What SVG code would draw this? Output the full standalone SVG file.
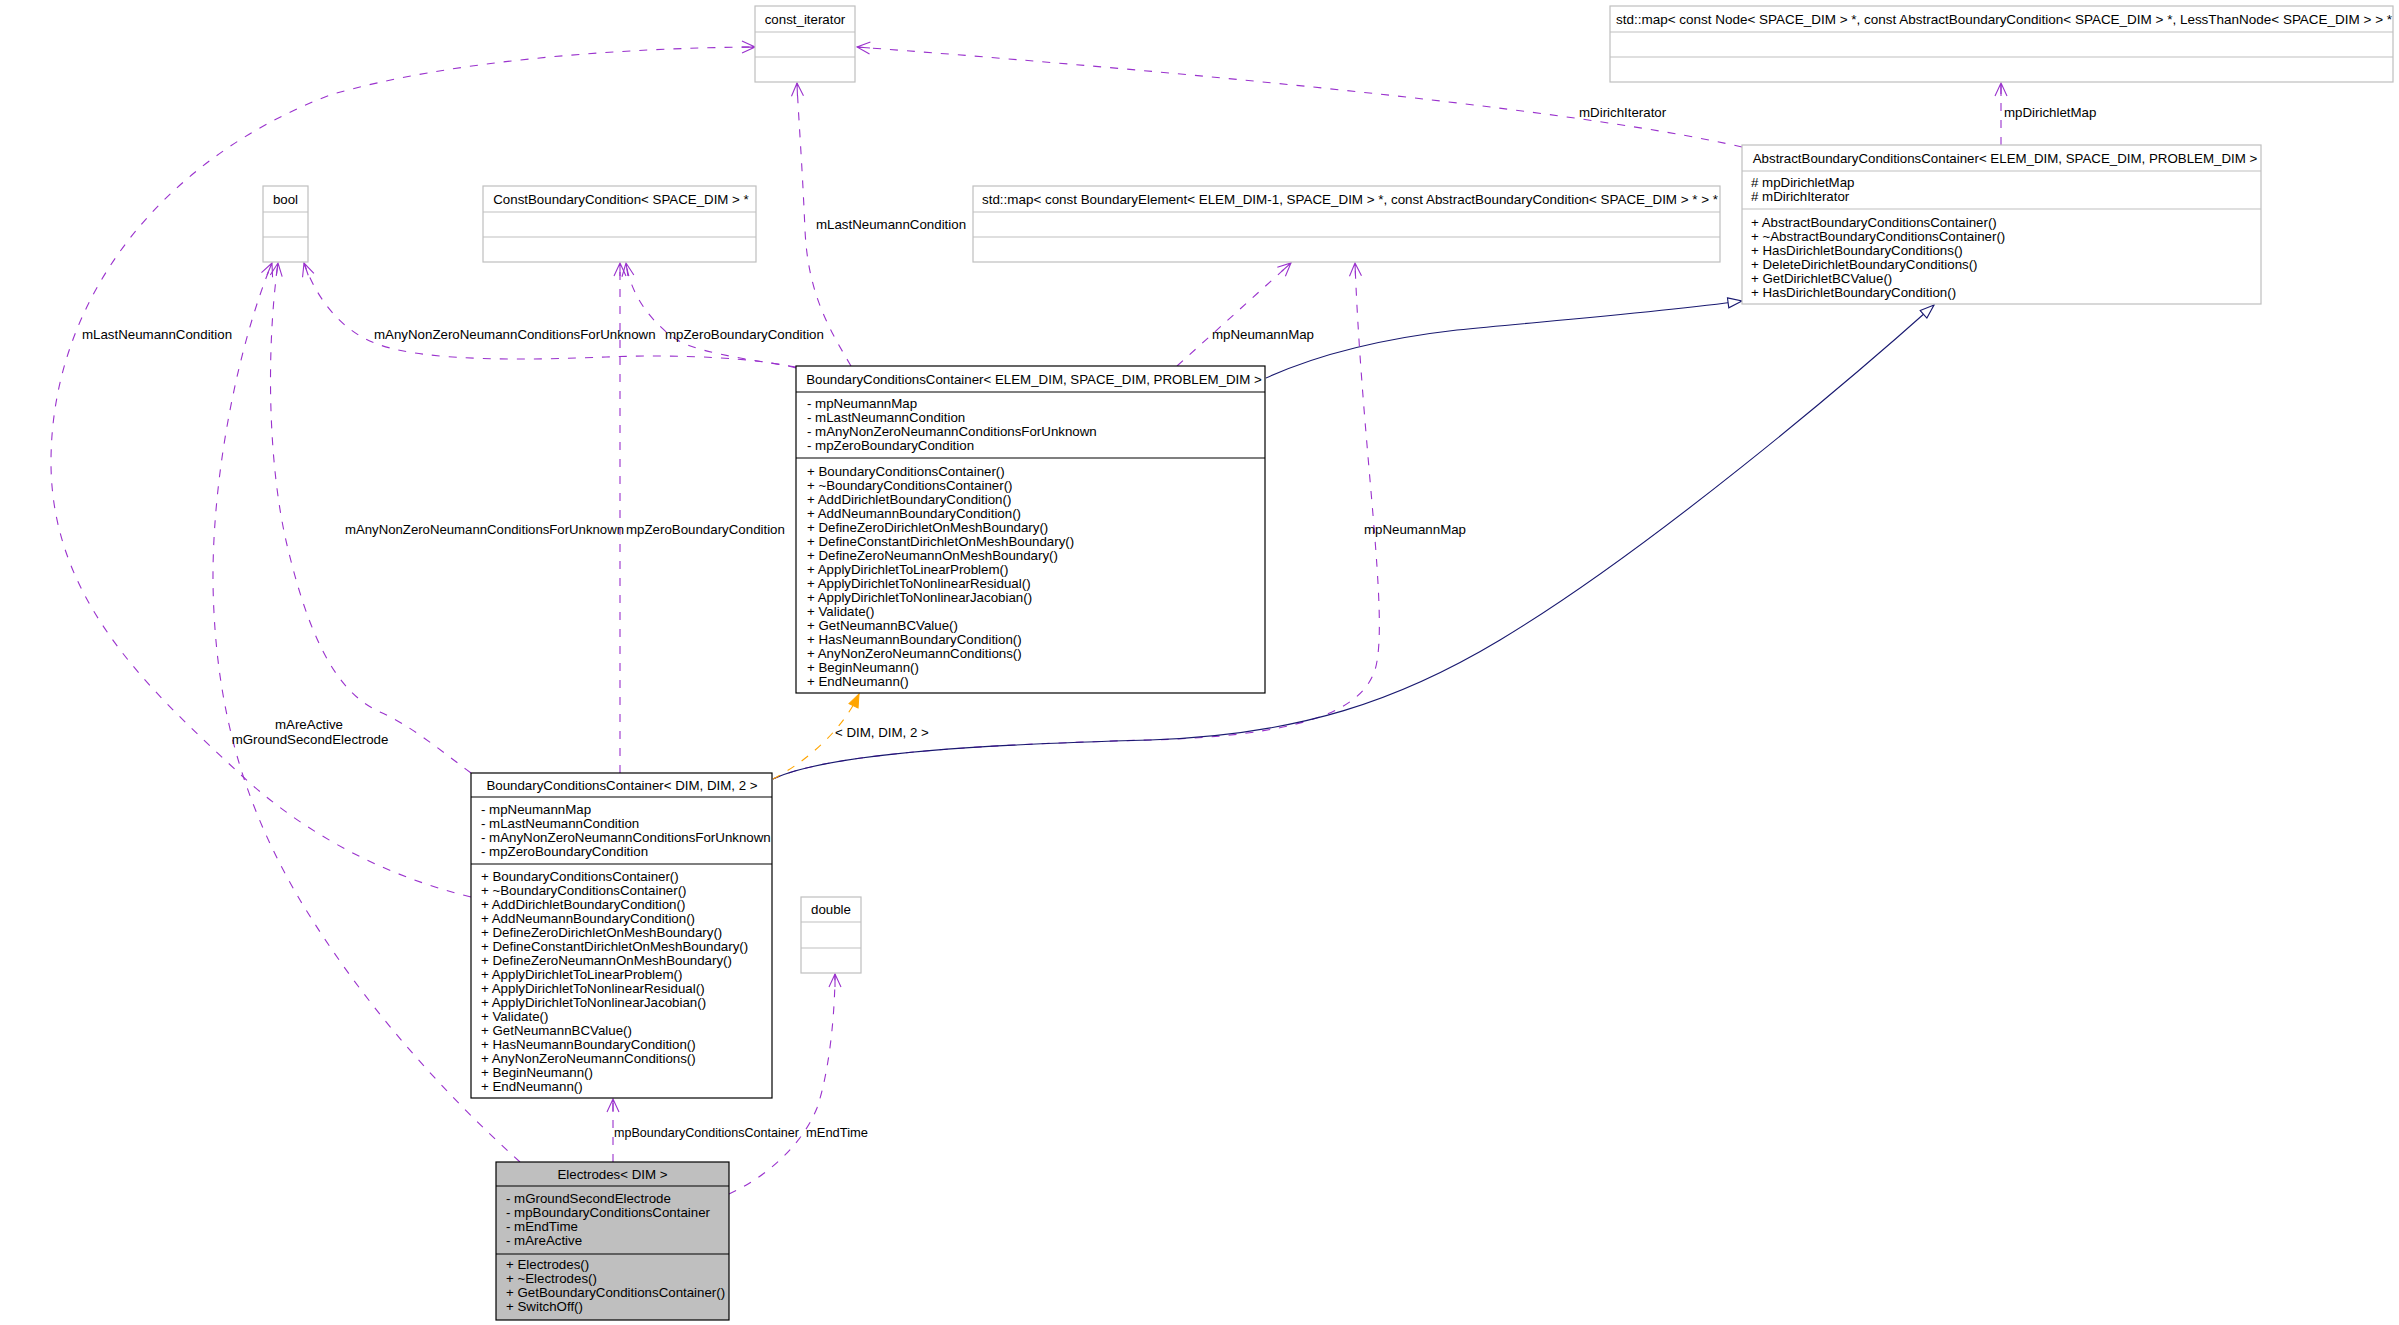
<svg xmlns="http://www.w3.org/2000/svg" width="2399" height="1325" viewBox="0 0 2399 1325">
<defs>
<style>
text{font-family:"Liberation Sans",Arial,Helvetica,sans-serif;font-size:13.3px;fill:#000}
.c{text-anchor:middle}
.g rect,.g line{stroke:#bfbfbf;stroke-width:1.2;fill:#fff}
.b rect,.b line{stroke:#000;stroke-width:1.2;fill:#fff}
.b rect.gray{fill:#bfbfbf}
.u{fill:none;stroke:#9a32cd;stroke-width:1.1;stroke-dasharray:8,9}
.inh{fill:none;stroke:#191970;stroke-width:1.1}
.tpl{fill:none;stroke:#ffa500;stroke-width:1.1;stroke-dasharray:8,9}
</style>
<marker id="au" viewBox="-1 -7 15 14" refX="13" refY="0" markerWidth="15" markerHeight="14" markerUnits="userSpaceOnUse" orient="auto">
<path d="M0,-6 L13,0 L0,6 M0,0 L13,0" fill="none" stroke="#9a32cd" stroke-width="1.1"/>
</marker>
<marker id="ai" viewBox="-1 -7 16 14" refX="14" refY="0" markerWidth="16" markerHeight="14" markerUnits="userSpaceOnUse" orient="auto">
<path d="M0,-5 L14,0 L0,5 Z" fill="#fff" stroke="#191970" stroke-width="1.1"/>
</marker>
<marker id="at" viewBox="-1 -7 15 14" refX="13" refY="0" markerWidth="15" markerHeight="14" markerUnits="userSpaceOnUse" orient="auto">
<path d="M0,-5 L13,0 L0,5 Z" fill="#ffa500" stroke="#ffa500" stroke-width="1"/>
</marker>
</defs>
<rect x="0" y="0" width="2399" height="1325" fill="#fff"/>

<g id="edges">
<path class="u" d="M1742,147 C1560,105 1100,65 857,47" marker-end="url(#au)"/>
<path class="u" d="M2001,145 L2001,83" marker-end="url(#au)"/>
<path class="inh" d="M1266,378 C1310,358 1370,340 1457,330 C1560,320 1660,312 1742,301" marker-end="url(#ai)"/>
<path class="u" d="M1177,366 L1291,263" marker-end="url(#au)"/>
<path class="u" d="M851,366 C830,330 808,295 805,230 C802,160 798,110 797,83" marker-end="url(#au)"/>
<path class="u" d="M796,367 C740,358 690,352 670,335 C645,315 630,290 626,263" marker-end="url(#au)"/>
<path class="u" d="M796,368 C760,358 680,354 606,357 C530,360 430,362 380,345 C340,332 315,295 304,263" marker-end="url(#au)"/>
<path class="u" d="M471,897 C380,875 300,830 240,774 C150,690 50,600 51,460 C52,300 160,160 330,95 C450,60 620,48 755,47" marker-end="url(#au)"/>
<path class="u" d="M471,773 C440,750 410,725 380,712 C330,690 305,620 287,545 C268,465 266,350 278,263" marker-end="url(#au)"/>
<path class="u" d="M620,773 L620,263" marker-end="url(#au)"/>
<path class="u" d="M773,779 C830,752 1000,744 1150,740 C1290,736 1360,715 1375,670 C1390,620 1362,450 1355,263" marker-end="url(#au)"/>
<path class="inh" d="M773,779 C830,752 1000,744 1150,740 C1300,735 1400,700 1500,640 C1650,550 1850,380 1934,305" marker-end="url(#ai)"/>
<path class="tpl" d="M773,779 C800,765 840,735 859,694" marker-end="url(#at)"/>
<path class="u" d="M520,1162 C440,1090 360,1000 300,900 C250,815 215,720 213,583 C212,470 240,340 272,263" marker-end="url(#au)"/>
<path class="u" d="M613,1162 L613,1099" marker-end="url(#au)"/>
<path class="u" d="M729,1194 C760,1180 800,1150 817,1108 C830,1070 835,1010 835,974" marker-end="url(#au)"/>
<text x="1579" y="117">mDirichIterator</text>
<text x="2004" y="117">mpDirichletMap</text>
<text x="816" y="229">mLastNeumannCondition</text>
<text x="82" y="339">mLastNeumannCondition</text>
<text x="374" y="339">mAnyNonZeroNeumannConditionsForUnknown</text>
<text x="665" y="339">mpZeroBoundaryCondition</text>
<text x="1212" y="339">mpNeumannMap</text>
<text x="345" y="534" textLength="279" lengthAdjust="spacingAndGlyphs">mAnyNonZeroNeumannConditionsForUnknown</text>
<text x="626" y="534">mpZeroBoundaryCondition</text>
<text x="1364" y="534">mpNeumannMap</text>
<text x="835" y="737">&lt; DIM, DIM, 2 &gt;</text>
<text class="c" x="309" y="729">mAreActive</text>
<text class="c" x="310" y="744">mGroundSecondElectrode</text>
<text x="614" y="1137" textLength="185" lengthAdjust="spacingAndGlyphs">mpBoundaryConditionsContainer</text>
<text x="806" y="1137" textLength="62" lengthAdjust="spacingAndGlyphs">mEndTime</text>
</g>

<g id="const_iterator" class="g">
<rect x="755" y="6" width="100" height="76"/>
<line x1="755" y1="32" x2="855" y2="32"/><line x1="755" y1="57" x2="855" y2="57"/>
<text class="c" x="805" y="24">const_iterator</text>
</g>

<g id="map_node" class="g">
<rect x="1610" y="6" width="783" height="76"/>
<line x1="1610" y1="32" x2="2393" y2="32"/><line x1="1610" y1="57" x2="2393" y2="57"/>
<text x="1616" y="24" textLength="776" lengthAdjust="spacingAndGlyphs">std::map&lt; const Node&lt; SPACE_DIM &gt; *, const AbstractBoundaryCondition&lt; SPACE_DIM &gt; *, LessThanNode&lt; SPACE_DIM &gt; &gt; *</text>
</g>

<g id="abstract_bcc" class="g">
<rect x="1742" y="145" width="519" height="159"/>
<line x1="1742" y1="171" x2="2261" y2="171"/><line x1="1742" y1="209" x2="2261" y2="209"/>
<text class="c" x="2005" y="163">AbstractBoundaryConditionsContainer&lt; ELEM_DIM, SPACE_DIM, PROBLEM_DIM &gt;</text>
<text x="1751" y="187"># mpDirichletMap</text>
<text x="1751" y="201"># mDirichIterator</text>
<text x="1751" y="227">+ AbstractBoundaryConditionsContainer()</text>
<text x="1751" y="241">+ ~AbstractBoundaryConditionsContainer()</text>
<text x="1751" y="255">+ HasDirichletBoundaryConditions()</text>
<text x="1751" y="269">+ DeleteDirichletBoundaryConditions()</text>
<text x="1751" y="283">+ GetDirichletBCValue()</text>
<text x="1751" y="297">+ HasDirichletBoundaryCondition()</text>
</g>

<g id="bool" class="g">
<rect x="263" y="186" width="45" height="76"/>
<line x1="263" y1="212" x2="308" y2="212"/><line x1="263" y1="237" x2="308" y2="237"/>
<text class="c" x="285.5" y="204">bool</text>
</g>

<g id="const_bc" class="g">
<rect x="483" y="186" width="273" height="76"/>
<line x1="483" y1="212" x2="756" y2="212"/><line x1="483" y1="237" x2="756" y2="237"/>
<text class="c" x="621" y="204">ConstBoundaryCondition&lt; SPACE_DIM &gt; *</text>
</g>

<g id="map_be" class="g">
<rect x="973" y="186" width="747" height="76"/>
<line x1="973" y1="212" x2="1720" y2="212"/><line x1="973" y1="237" x2="1720" y2="237"/>
<text x="982" y="204" textLength="736" lengthAdjust="spacingAndGlyphs">std::map&lt; const BoundaryElement&lt; ELEM_DIM-1, SPACE_DIM &gt; *, const AbstractBoundaryCondition&lt; SPACE_DIM &gt; * &gt; *</text>
</g>

<g id="bcc_template" class="b">
<rect x="796" y="366" width="469" height="327"/>
<line x1="796" y1="392" x2="1265" y2="392"/><line x1="796" y1="458" x2="1265" y2="458"/>
<text class="c" x="1034" y="384">BoundaryConditionsContainer&lt; ELEM_DIM, SPACE_DIM, PROBLEM_DIM &gt;</text>
<text x="807" y="408">- mpNeumannMap</text>
<text x="807" y="422">- mLastNeumannCondition</text>
<text x="807" y="436">- mAnyNonZeroNeumannConditionsForUnknown</text>
<text x="807" y="450">- mpZeroBoundaryCondition</text>
<text x="807" y="476">+ BoundaryConditionsContainer()</text>
<text x="807" y="490">+ ~BoundaryConditionsContainer()</text>
<text x="807" y="504">+ AddDirichletBoundaryCondition()</text>
<text x="807" y="518">+ AddNeumannBoundaryCondition()</text>
<text x="807" y="532">+ DefineZeroDirichletOnMeshBoundary()</text>
<text x="807" y="546">+ DefineConstantDirichletOnMeshBoundary()</text>
<text x="807" y="560">+ DefineZeroNeumannOnMeshBoundary()</text>
<text x="807" y="574">+ ApplyDirichletToLinearProblem()</text>
<text x="807" y="588">+ ApplyDirichletToNonlinearResidual()</text>
<text x="807" y="602">+ ApplyDirichletToNonlinearJacobian()</text>
<text x="807" y="616">+ Validate()</text>
<text x="807" y="630">+ GetNeumannBCValue()</text>
<text x="807" y="644">+ HasNeumannBoundaryCondition()</text>
<text x="807" y="658">+ AnyNonZeroNeumannConditions()</text>
<text x="807" y="672">+ BeginNeumann()</text>
<text x="807" y="686">+ EndNeumann()</text>
</g>

<g id="bcc_dim" class="b">
<rect x="471" y="773" width="301" height="325"/>
<line x1="471" y1="797" x2="772" y2="797"/><line x1="471" y1="864" x2="772" y2="864"/>
<text class="c" x="622" y="790">BoundaryConditionsContainer&lt; DIM, DIM, 2 &gt;</text>
<text x="481" y="814">- mpNeumannMap</text>
<text x="481" y="828">- mLastNeumannCondition</text>
<text x="481" y="842">- mAnyNonZeroNeumannConditionsForUnknown</text>
<text x="481" y="856">- mpZeroBoundaryCondition</text>
<text x="481" y="881">+ BoundaryConditionsContainer()</text>
<text x="481" y="895">+ ~BoundaryConditionsContainer()</text>
<text x="481" y="909">+ AddDirichletBoundaryCondition()</text>
<text x="481" y="923">+ AddNeumannBoundaryCondition()</text>
<text x="481" y="937">+ DefineZeroDirichletOnMeshBoundary()</text>
<text x="481" y="951">+ DefineConstantDirichletOnMeshBoundary()</text>
<text x="481" y="965">+ DefineZeroNeumannOnMeshBoundary()</text>
<text x="481" y="979">+ ApplyDirichletToLinearProblem()</text>
<text x="481" y="993">+ ApplyDirichletToNonlinearResidual()</text>
<text x="481" y="1007">+ ApplyDirichletToNonlinearJacobian()</text>
<text x="481" y="1021">+ Validate()</text>
<text x="481" y="1035">+ GetNeumannBCValue()</text>
<text x="481" y="1049">+ HasNeumannBoundaryCondition()</text>
<text x="481" y="1063">+ AnyNonZeroNeumannConditions()</text>
<text x="481" y="1077">+ BeginNeumann()</text>
<text x="481" y="1091">+ EndNeumann()</text>
</g>

<g id="double" class="g">
<rect x="801" y="897" width="60" height="76"/>
<line x1="801" y1="922" x2="861" y2="922"/><line x1="801" y1="948" x2="861" y2="948"/>
<text class="c" x="831" y="914">double</text>
</g>

<g id="electrodes" class="b">
<rect class="gray" x="496" y="1162" width="233" height="158"/>
<line x1="496" y1="1186" x2="729" y2="1186"/><line x1="496" y1="1254" x2="729" y2="1254"/>
<text class="c" x="612.5" y="1179">Electrodes&lt; DIM &gt;</text>
<text x="506" y="1203">- mGroundSecondElectrode</text>
<text x="506" y="1217">- mpBoundaryConditionsContainer</text>
<text x="506" y="1231">- mEndTime</text>
<text x="506" y="1245">- mAreActive</text>
<text x="506" y="1269">+ Electrodes()</text>
<text x="506" y="1283">+ ~Electrodes()</text>
<text x="506" y="1297">+ GetBoundaryConditionsContainer()</text>
<text x="506" y="1311">+ SwitchOff()</text>
</g>
</svg>
